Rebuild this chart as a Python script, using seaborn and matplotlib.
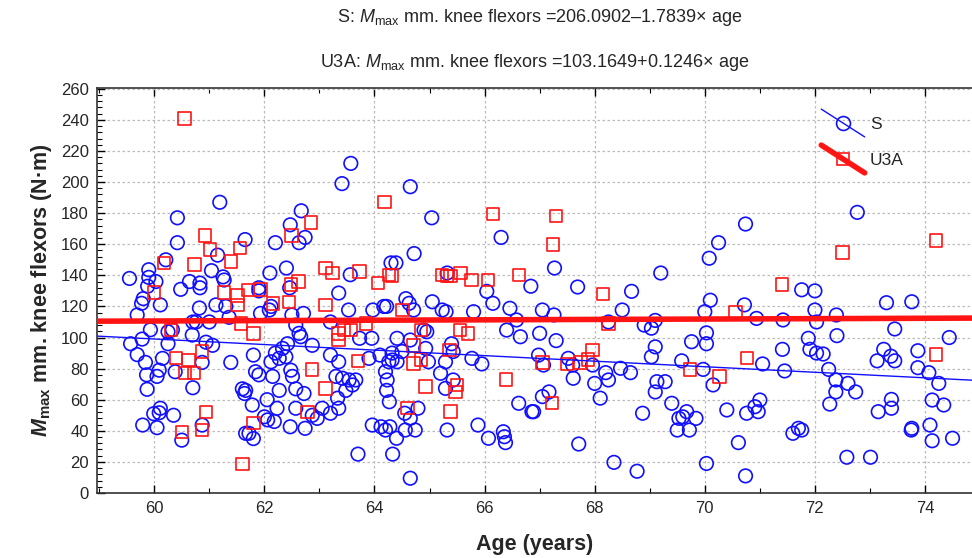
import numpy as np
import pandas as pd
import matplotlib
matplotlib.use('Agg')
import matplotlib.pyplot as plt
import seaborn as sns
from matplotlib.lines import Line2D
from matplotlib.legend_handler import HandlerBase
from matplotlib.ticker import MultipleLocator

# Dados: grupo S (círculos azuis)
s_age = [60.42, 61.19, 60.42, 61.65, 61.15, 60.21, 61.04, 59.9, 59.9, 60.03, 59.88, 59.55, 60.64, 60.83, 60.83,
         61.25, 61.27, 60.48,
         59.8, 59.77, 60.11, 59.69, 60.82, 61.12, 61.3, 61.36, 60.7, 60.76, 61.0, 59.93, 60.33, 60.25, 60.69,
         59.57, 59.78, 60.25, 60.94, 61.06, 59.69, 59.84, 60.15, 60.87, 61.39, 60.38, 60.09, 60.05, 59.86, 60.7,
         59.87, 61.6, 61.64, 60.11, 59.99, 60.09, 60.35, 59.79, 60.05, 60.87, 60.5, 61.66,
         63.57, 63.41, 62.67, 62.47, 62.74, 62.63, 62.2, 62.1, 62.4, 63.56, 62.46, 61.9, 61.9, 63.35, 64.3,
         63.53, 63.97, 64.17, 62.12, 62.09, 61.93, 62.71, 62.5, 62.57, 62.63, 62.66, 63.2, 63.73, 63.95, 62.87,
         62.42, 62.33, 62.2, 62.39, 61.8, 63.2, 63.35, 63.9, 64.1, 64.26, 64.2, 64.23, 62.12, 62.27, 61.84, 61.9,
         62.15, 62.48, 62.51, 63.3, 63.42, 63.54, 63.66, 63.6, 61.66, 62.27, 62.57, 62.72, 63.33, 63.48, 62.05,
         61.78, 62.23, 62.57, 63.05, 63.2, 63.35, 62.87, 62.96, 62.0, 62.06, 62.18, 61.72, 61.8, 62.47, 62.74,
         63.96, 64.12, 64.2, 63.7,
         64.65, 65.04, 66.3, 64.72, 64.39, 65.32, 66.04, 66.84,
         64.57, 64.63, 64.71, 65.05, 65.23, 65.3, 65.8, 66.15, 66.46, 66.58, 64.22, 64.95, 64.9, 66.4, 66.65,
         64.41, 64.65, 64.5, 64.32, 64.93, 65.4, 65.43, 64.41, 64.32, 64.98, 65.29, 65.2, 65.77, 65.95, 64.22,
         65.29, 65.43, 64.27, 64.55, 64.79, 66.62, 66.86, 64.65, 64.56, 64.74, 64.28, 64.4, 65.32, 65.88, 66.07,
         66.34, 66.36, 66.38, 64.33, 64.65,
         67.27, 69.2, 67.69, 68.67,
         67.05, 67.26, 68.5, 68.25, 68.9, 69.03, 69.1, 67.0, 67.3, 69.1, 69.03, 66.98, 67.07, 67.52, 67.6, 67.96,
         67.61, 68.0, 68.2, 68.25, 68.47, 68.65, 68.1, 69.13, 69.28, 69.1, 67.05, 67.17, 66.89, 68.87, 69.4,
         69.53, 69.5, 67.71, 68.35, 68.77,
         70.74, 70.25, 70.08, 71.76, 72.0,
         70.1, 70.0, 70.72, 70.94, 71.42, 72.0, 72.03, 70.03, 70.03, 69.76, 71.88, 71.91, 72.03, 71.41, 69.58,
         69.97, 71.05, 71.45, 70.15, 69.67, 69.6, 69.84, 69.72, 70.4, 70.76, 70.91, 71.0, 70.97, 71.6, 71.7,
         71.76, 70.61, 70.03, 70.74,
         72.77,
         72.39, 73.3, 73.76, 73.45, 72.4, 74.44, 72.15, 73.25, 73.13, 73.38, 73.45, 73.87, 73.87, 74.07, 74.25,
         72.25, 72.38, 72.6, 72.74, 72.38, 72.27, 73.39, 73.39, 73.15, 74.13, 74.34, 73.76, 73.75, 74.09, 74.13,
         74.5, 72.58, 73.01]
s_mmax = [177, 187, 161, 163, 153, 150, 143, 143.6, 138.7, 136, 133, 138, 136, 135, 132,
          139, 137, 131,
          125, 122, 121, 114.5, 119, 121, 120, 113, 110, 110, 110, 105, 105, 103.7, 101.6,
          96, 99, 96, 97, 95, 89, 84, 86.6, 84, 84, 78, 79, 75, 76, 67.7,
          66.7, 67, 64, 54.5, 51, 51.6, 50, 43.7, 42, 43.7, 34, 38.4,
          212, 199, 181.5, 172.5, 164.4, 161, 161, 141.5, 144.7, 140.4, 132, 132, 130, 128.6, 148,
          117.7, 117.7, 120, 120, 117.7, 115.5, 115.5, 114.5, 108, 102.7, 100.5, 110, 99.5, 99.5, 95,
          96, 93, 90, 87.6, 88.7, 88.7, 84.4, 86.6, 88.7, 84.4, 78, 72.7, 84.4, 86.6, 78, 76,
          75, 79, 75, 75, 73.8, 72.7, 72.7, 69.5, 66, 66, 67, 64, 61, 66, 60,
          56.6, 54.5, 54.5, 54.5, 51.3, 54.5, 50, 48, 49, 47, 46, 38.4, 35, 42.6, 41.6,
          43.7, 42.6, 40.5, 25,
          197, 177, 164.4, 154, 148, 141.5, 129.7, 133,
          125, 122, 117.7, 123, 117.7, 116.6, 116.6, 122, 118.8, 111.3, 120, 103.7, 104.8, 104.8, 100.5,
          99.5, 98.4, 91, 90, 93, 96, 91, 84.4, 85.5, 84.4, 84.4, 77, 86.6, 83, 66,
          67.3, 72.7, 58.7, 51.3, 54.5, 57.7, 52.3, 48, 40.5, 40.5, 42.6, 35.2, 40.5, 43.7, 35.2,
          39.4, 36.2, 32.4, 25, 9.5,
          144.7, 141.5, 132.5, 129.7,
          117.7, 114.5, 117.7, 110, 108, 106, 111, 102.7, 98, 94, 87.6, 88.7, 82.3, 86.6, 82.3, 82.3,
          73.8, 70.5, 77.4, 72.7, 80.2, 77.4, 61, 71.6, 71.6, 65, 62, 65, 52.3, 51.3, 57.7,
          48, 40.5, 31.5, 19.7, 14,
          173, 161, 151, 130.7, 130,
          124, 116.6, 121, 112.3, 111.3, 117.7, 110, 103, 96, 97.3, 99.5, 92.4, 90, 92.4, 85,
          79.5, 83, 78.5, 69.5, 52.3, 49, 48, 40.5, 53.4, 51.3, 55.5, 59.8, 52.3, 38.4, 41.6,
          40.5, 32.4, 19, 11,
          180.5,
          114.5, 122.4, 123, 105.5, 101.2, 100, 89.4, 92.4, 85, 88, 85, 91.5, 80.6, 77.4, 70.5,
          79.5, 72.7, 70.5, 65, 65, 57.2, 60.2, 54.5, 52.3, 59.8, 56.6, 41.6, 40.5, 43.7, 33.6,
          35.2, 23, 23]

# Grupo U3A (quadrados vermelhos)
u_age = [60.55, 60.92, 61.01, 61.56, 61.39, 60.18, 60.73, 60.0, 61.27,
         61.51, 61.51, 61.7, 61.58, 60.3, 60.4, 60.62, 60.87, 60.56, 60.72, 60.94, 60.87, 60.5, 61.6,
         64.18, 62.85, 62.49, 63.11, 63.24, 63.73, 64.06, 64.26, 62.62, 62.48, 61.93,
         63.11, 62.45, 62.16, 61.8, 63.35, 63.35, 63.45, 63.57, 63.85, 62.87, 63.7, 63.11, 62.78, 61.8,
         66.15, 64.32, 65.23, 65.32, 65.38, 65.56, 65.76, 66.06, 66.62,
         64.51, 64.84, 65.55, 65.7, 64.71, 65.36, 64.71, 64.84, 64.93, 65.5, 65.47, 66.39, 64.6, 65.38,
         67.3, 67.24, 68.15,
         68.25, 67.05, 67.5, 67.74, 67.88, 67.96, 67.22,
         71.4, 70.56, 70.77, 69.73, 70.27,
         72.5, 74.2, 74.2]
u_mmax = [241, 165.5, 156.7, 157.7, 149, 148, 147, 129, 129,
          127, 121, 130.5, 109, 105, 87, 85.5, 91, 77, 77, 52, 40.5, 39.4, 18.6,
          187, 174, 165.5, 144.7, 141.5, 142.6, 135, 140.4, 136, 134, 131,
          121, 123, 122, 102.7, 102.7, 98.4, 104.8, 104.8, 109, 79.5, 85, 67.3, 52, 45,
          179.6, 140, 140.4, 139.4, 139.4, 141.5, 137, 137, 140.4,
          117.7, 104.8, 104.8, 102.7, 95, 92, 83.4, 86, 68.4, 69.5, 65, 73, 54.5, 52.3,
          178.3, 159.7, 128,
          109, 83.8, 83, 83.8, 86, 92, 57.7,
          134, 116.6, 87, 79.5, 74.8,
          154.8, 162.3, 89.2]

# Coeficientes das retas de regressão (do título)
s_coef = (206.0902, -1.7839)
u_coef = (103.1649, 0.1246)

blue = '#1010ff'
red = '#ff1414'


# Legenda no estilo do original: linha diagonal com o marcador no meio
class DiagHandler(HandlerBase):
    def create_artists(self, legend, orig_handle, xdescent, ydescent, width, height, fontsize, trans):
        x0, x1 = -xdescent, width - xdescent
        yc = height / 2 - ydescent
        dy = 10
        line = Line2D([x0, x1], [yc + dy, yc - dy], color=orig_handle.get_color(),
                      lw=orig_handle.get_linewidth(), transform=trans)
        mark = Line2D([(x0 + x1) / 2], [yc], linestyle='none', marker=orig_handle.get_marker(),
                      ms=orig_handle.get_markersize(), mfc='none', mec=orig_handle.get_markeredgecolor(),
                      mew=orig_handle.get_markeredgewidth(), transform=trans)
        return [line, mark]


sns.set_style('ticks')
plt.rcParams['font.family'] = ['Liberation Sans', 'DejaVu Sans']
plt.rcParams['mathtext.fontset'] = 'custom'
plt.rcParams['mathtext.rm'] = 'Liberation Sans'
plt.rcParams['mathtext.it'] = 'Liberation Sans:italic'
plt.rcParams['mathtext.bf'] = 'Liberation Sans:bold'
plt.rcParams['mathtext.bfit'] = 'Liberation Sans:italic:bold'

df_s = pd.DataFrame({'age': s_age, 'mmax': s_mmax})
df_u = pd.DataFrame({'age': u_age, 'mmax': u_mmax})

fig = plt.figure(figsize=(9.72, 5.58), dpi=100)
ax = fig.add_axes([0.0998, 0.1165, 0.9, 0.7258])

sns.scatterplot(data=df_s, x='age', y='mmax', ax=ax, marker='o', s=95,
                facecolor='none', edgecolor=blue, linewidth=1.2, zorder=3)
sns.scatterplot(data=df_u, x='age', y='mmax', ax=ax, marker='s', s=80,
                facecolor='none', edgecolor=red, linewidth=1.2, zorder=4)

xs = np.array([58.5, 75.5])
sns.lineplot(x=xs, y=s_coef[0] + s_coef[1] * xs, ax=ax, color=blue, linewidth=1.0, zorder=5)
sns.lineplot(x=xs, y=u_coef[0] + u_coef[1] * xs, ax=ax, color=red, linewidth=4.0, zorder=6)

ax.set_xlim(58.96, 74.85)
ax.set_ylim(0, 260.5)
ax.xaxis.set_major_locator(MultipleLocator(2))
ax.xaxis.set_minor_locator(MultipleLocator(1))
ax.yaxis.set_major_locator(MultipleLocator(20))
ax.yaxis.set_minor_locator(MultipleLocator(4))
ax.tick_params(which='both', direction='in', top=True, right=False, labelsize=12, color='black')
ax.tick_params(which='major', length=6, width=1, pad=6)
ax.tick_params(which='minor', length=3.5, width=0.8)
ax.grid(True, which='major', linestyle=(0, (2, 2)), color='#bbbbbb', linewidth=0.9)
ax.set_axisbelow(True)
for sp in ['left', 'top', 'bottom']:
    ax.spines[sp].set_linewidth(1.2)
    ax.spines[sp].set_color('#333333')
ax.spines['right'].set_visible(False)

ax.set_xlabel('Age (years)', fontsize=15.5, fontweight='bold', labelpad=13)
ax.set_ylabel(r'$\mathbfit{M}_{\mathbf{max}}$ mm. knee flexors (N·m)', fontsize=15.5, fontweight='bold',
              labelpad=5)

fig.text(0.555, 0.968, r'S: $M_{\mathrm{max}}$ mm. knee flexors =206.0902–1.7839$\times$ age',
         ha='center', va='center', fontsize=13)
fig.text(0.55, 0.888, r'U3A: $M_{\mathrm{max}}$ mm. knee flexors =103.1649+0.1246$\times$ age',
         ha='center', va='center', fontsize=13)

handles = [Line2D([0], [0], color=blue, lw=1, marker='o', ms=10, mfc='none', mec=blue, mew=1.2),
           Line2D([0], [0], color=red, lw=4, marker='s', ms=9, mfc='none', mec=red, mew=1.2)]
ax.legend(handles, ['S', 'U3A'], loc='upper left', bbox_to_anchor=(0.818, 0.95), frameon=False,
          fontsize=12.5, handlelength=2.5, handletextpad=0.3, labelspacing=1.2, borderpad=0,
          handler_map={Line2D: DiagHandler()})

fig.savefig('out.png', dpi=100)
